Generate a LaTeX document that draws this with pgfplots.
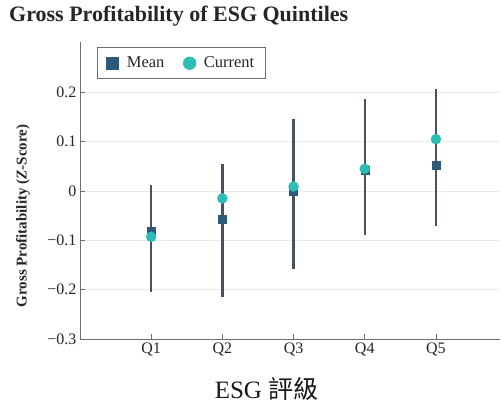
\documentclass[border=0pt]{standalone}
\usepackage{pgfplots}
\pgfplotsset{compat=1.18}
\usepackage{fontspec}
\setmainfont{Liberation Serif}
\newfontfamily\cjk{Noto Sans CJK TC}
\definecolor{meanc}{HTML}{2E5A7A}
\definecolor{curc}{HTML}{2CBDB6}
\definecolor{whisk}{HTML}{4A5261}
\definecolor{axc}{HTML}{6E6E6E}
\definecolor{gridc}{HTML}{EBEBEB}
\begin{document}
\begin{tikzpicture}
\path[use as bounding box] (-80pt,-66pt) rectangle (422pt,339pt);
\begin{axis}[
  at={(0,0)}, anchor=south west,
  scale only axis, width=420pt, height=297pt,
  xmin=0, xmax=5.9, ymin=-0.3, ymax=0.302,
  axis lines*=left,
  axis line style={axc, line width=0.9pt},
  xtick={1,2,3,4,5},
  xticklabels={Q1,Q2,Q3,Q4,Q5},
  ytick={-0.3,-0.2,-0.1,0,0.1,0.2},
  yticklabels={−0.3,−0.2,−0.1,0,0.1,0.2},
  ymajorgrids,
  grid style={gridc, line width=0.8pt},
  tick align=inside,
  major tick length=5pt,
  tick style={axc, line width=0.8pt},
  ticklabel style={font=\fontsize{16}{16}\selectfont, text=black!85},
  legend style={at={(0.0405,0.983)}, anchor=north west, draw=axc, line width=0.9pt,
    font=\fontsize{16.5}{16.5}\selectfont, text=black!85, inner xsep=9pt, inner ysep=7.5pt,
    /tikz/every odd column/.append style={column sep=6pt},
    /tikz/every even column/.append style={column sep=17pt}},
  legend image post style={mark size=6.2pt},
  legend columns=2,
  clip=false,
]
\addplot[whisk, line width=2.4pt, forget plot] coordinates {(1,-0.205) (1,0.012)};
\addplot[whisk, line width=2.4pt, forget plot] coordinates {(2,-0.215) (2,0.055)};
\addplot[whisk, line width=2.4pt, forget plot] coordinates {(3,-0.159) (3,0.146)};
\addplot[whisk, line width=2.4pt, forget plot] coordinates {(4,-0.089) (4,0.187)};
\addplot[whisk, line width=2.4pt, forget plot] coordinates {(5,-0.071) (5,0.207)};
\addplot[only marks, mark=square*, mark size=4pt, mark options={fill=meanc, draw=meanc}]
  coordinates {(1,-0.081) (2,-0.058) (3,-0.001) (4,0.042) (5,0.053)};
\addplot[only marks, mark=*, mark size=5pt, mark options={fill=curc, draw=curc}]
  coordinates {(1,-0.093) (2,-0.015) (3,0.009) (4,0.045) (5,0.105)};
\legend{Mean, Current}
\end{axis}
\node[anchor=base west, font=\bfseries\fontsize{22}{22}\selectfont, text=black!85, inner sep=0] at (-71pt,317pt) {Gross Profitability of ESG Quintiles};
\node[rotate=90, font=\bfseries\fontsize{15}{15}\selectfont, text=black!85, inner sep=0] at (-57pt,123pt) {Gross Profitability (\textit{Z}-Score)};
\node[anchor=base, font=\fontsize{25}{26}\selectfont, text=black!90, inner sep=0] at (186.5pt,-59pt) {ESG {\cjk 評級}};
\end{tikzpicture}
\end{document}
